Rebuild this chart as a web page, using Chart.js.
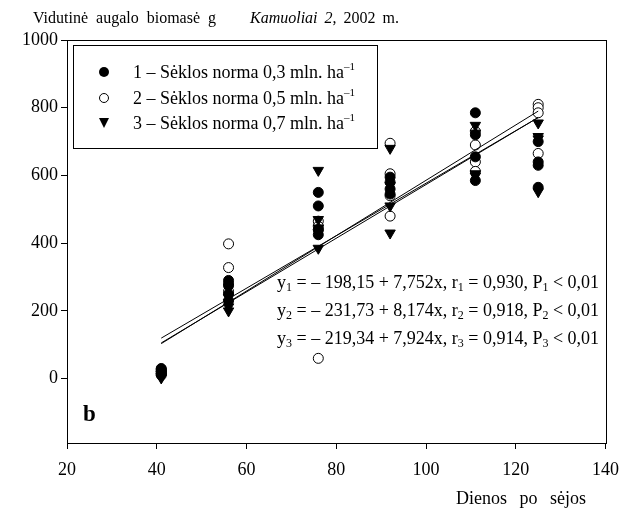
<!DOCTYPE html>
<html>
<head>
<meta charset="utf-8">
<script src="https://cdn.jsdelivr.net/npm/chart.js@4.4.1/dist/chart.umd.min.js"></script>
<style>
  body { margin: 0; background: #fff; }
  #wrap { position: relative; width: 629px; height: 509px; font-family: "Liberation Serif", "Times New Roman", serif; color: #000; }
  #wrap canvas { position: absolute; left: 0; top: 0; }
  .txt { position: absolute; white-space: nowrap; line-height: 1; font-size: 16px; }
  .eq { font-size: 18px; }
  .txt sub { font-size: 12px; vertical-align: -3px; line-height: 0; }
  .txt sup { font-size: 11px; vertical-align: 8px; line-height: 0; }
  #legend { position: absolute; left: 73px; top: 45px; width: 303px; height: 102px; border: 1px solid #000; }
  .row { position: absolute; left: 0; height: 18px; }
  .mk { position: absolute; left: 25px; top: 4px; box-sizing: border-box; }
  .fill { width: 10px; height: 10px; border-radius: 50%; background: #000; }
  .open { width: 10px; height: 10px; border-radius: 50%; border: 1px solid #000; background: #fff; }
  .tri { width: 0; height: 0; border-left: 5px solid transparent; border-right: 5px solid transparent; border-top: 10px solid #000; }
  .row .txt { left: 59px; top: 0; font-size: 18px; }
</style>
</head>
<body>
<div id="wrap">
  <canvas id="chartBiomase" width="629" height="509"></canvas>
  <div class="txt" style="left:33px; top:10px; word-spacing:4px;">Vidutinė augalo biomasė g</div>
  <div class="txt" style="left:250px; top:10px; word-spacing:3px;"><i>Kamuoliai 2</i>, 2002 m.</div>
  <div id="legend">
    <div class="row" style="top:17px;"><span class="mk fill"></span><span class="txt">1 – Sėklos norma 0,3 mln. ha<sup>–1</sup></span></div>
    <div class="row" style="top:43px;"><span class="mk open"></span><span class="txt">2 – Sėklos norma 0,5 mln. ha<sup>–1</sup></span></div>
    <div class="row" style="top:68px;"><span class="mk tri"></span><span class="txt">3 – Sėklos norma 0,7 mln. ha<sup>–1</sup></span></div>
  </div>
  <div class="txt eq" style="left:277px; top:273px;">y<sub>1</sub> = – 198,15 + 7,752x, r<sub>1</sub> = 0,930, P<sub>1</sub> &lt; 0,01</div>
  <div class="txt eq" style="left:277px; top:301px;">y<sub>2</sub> = – 231,73 + 8,174x, r<sub>2</sub> = 0,918, P<sub>2</sub> &lt; 0,01</div>
  <div class="txt eq" style="left:277px; top:329px;">y<sub>3</sub> = – 219,34 + 7,924x, r<sub>3</sub> = 0,914, P<sub>3</sub> &lt; 0,01</div>
  <div class="txt" style="left:83px; top:402px; font-size:23px; font-weight:bold;">b</div>
  <div class="txt" style="left:456px; top:489px; font-size:18px; word-spacing:8px;">Dienos po sėjos</div>
</div>
<script>
// dienos po sėjos (matavimo datos)
const days = [41, 56, 76, 92, 111, 125];

// biomasė, 4 pakartojimai kiekvienai datai
const norma03 = [
  [30, 25, 20, 15],
  [290, 275, 250, 230],
  [550, 510, 440, 425],
  [595, 580, 560, 545],
  [785, 720, 655, 585],
  [700, 640, 630, 565]
];
const norma05 = [
  [28, 22, 15, 10],
  [398, 328, 280, 258],
  [465, 450, 440, 60],
  [695, 605, 540, 480],
  [730, 690, 640, 612],
  [810, 800, 785, 665]
];
const norma07 = [
  [12, 8, 5, 2],
  [240, 225, 212, 200],
  [615, 470, 445, 385],
  [680, 570, 510, 430],
  [748, 725, 605, 598],
  [755, 715, 708, 552]
];

// regresijos tiesių galai
const fitDays = [41, 125];
const fit1 = [119.7, 770.9];
const fit2 = [103.4, 790.0];
const fit3 = [105.5, 771.2];

const xTicks = [20, 40, 60, 80, 100, 120, 140];
const yTicks = [0, 200, 400, 600, 800, 1000];

const toPoints = arr => days.flatMap((d, i) => arr[i].map(v => ({ x: d, y: v })));
const toLine = arr => fitDays.map((d, i) => ({ x: d, y: arr[i] }));

const fontTicks = { family: '"Liberation Serif", "Times New Roman", serif', size: 18 };

const frame = {
    id: 'frame',
    beforeDatasetsDraw(chart) {
        const { ctx, chartArea: a } = chart;
        ctx.save();
        ctx.strokeStyle = '#000';
        ctx.lineWidth = 1;
        ctx.strokeRect(Math.round(a.left) + 0.5, Math.round(a.top) + 0.5, Math.round(a.right - a.left), Math.round(a.bottom - a.top));
        ctx.restore();
    }
};

const fitLine = data => ({
    type: 'line',
    data: toLine(data),
    borderColor: '#000',
    borderWidth: 1,
    pointRadius: 0,
    fill: false
});

new Chart(document.getElementById('chartBiomase'), {
    type: 'scatter',
    data: {
        datasets: [
            fitLine(fit1),
            fitLine(fit2),
            fitLine(fit3),
            {
                data: toPoints(norma07),
                pointStyle: 'triangle',
                rotation: 180,
                radius: 6,
                backgroundColor: '#000',
                borderColor: '#000',
                borderWidth: 1
            },
            {
                data: toPoints(norma03),
                pointStyle: 'circle',
                radius: 5,
                backgroundColor: '#000',
                borderColor: '#000',
                borderWidth: 1
            },
            {
                data: toPoints(norma05),
                pointStyle: 'circle',
                radius: 5,
                backgroundColor: '#fff',
                borderColor: '#000',
                borderWidth: 1
            }
        ]
    },
    options: {
        responsive: false,
        animation: false,
        devicePixelRatio: 1,
        layout: { padding: { left: 0, right: 22, top: 40, bottom: 0 } },
        plugins: {
            legend: { display: false },
            tooltip: { enabled: false }
        },
        scales: {
            x: {
                type: 'linear',
                min: 20,
                max: 140,
                afterBuildTicks: s => { s.ticks = xTicks.map(v => ({ value: v })); },
                afterFit: s => { s.height = 66; },
                grid: { drawOnChartArea: false, color: '#000', tickLength: 6 },
                border: { color: '#000' },
                ticks: { color: '#000', font: fontTicks, padding: 10, maxRotation: 0, callback: v => String(v) }
            },
            y: {
                min: -190,
                max: 1000,
                afterBuildTicks: s => { s.ticks = yTicks.map(v => ({ value: v })); },
                afterFit: s => { s.width = 67; },
                grid: { drawOnChartArea: false, color: '#000', tickLength: 6 },
                border: { color: '#000' },
                ticks: { color: '#000', font: fontTicks, padding: 3, callback: v => String(v) }
            }
        }
    },
    plugins: [frame]
});
</script>
</body>
</html>
